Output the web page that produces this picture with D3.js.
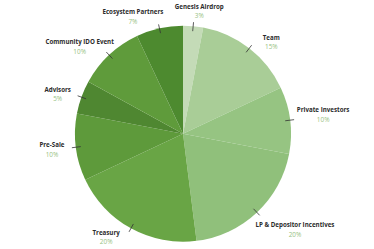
<!DOCTYPE html>
<html><head><meta charset="utf-8">
<script src="https://cdn.jsdelivr.net/npm/d3@7"></script>
<style>
html,body{margin:0;padding:0;background:#fff;}
svg{display:block;}
.name{font-family:"Open Sans",Arial,sans-serif;font-weight:700;font-size:6.2px;fill:#2b2b2b;}
.pct{font-family:"Open Sans",Arial,sans-serif;font-weight:400;font-size:6.4px;fill:#98c283;}
</style></head>
<body>
<script>
const categories = ["Genesis Airdrop","Team","Private Investors","LP & Depositor Incentives","Treasury","Pre-Sale","Advisors","Community IDO Event","Ecosystem Partners"];
const shares = [3,15,10,20,20,10,5,10,7];
const colors = ["#c4dbb7","#a9cd97","#96c482","#90c07b","#69a545","#5e9a3b","#4f8731","#5f9b3b","#4d8a2f"];
// hand-placed label adjustments (layout only)
const labelNudgeX = [2.7,9.5,-5,2.8,-12.5,0.4,0,2.2,-17.3];
const labelNudgeY = [1.2,6.3,-3.6,5.5,-5,0.4,2.3,3.4,4.1];

const W=374,H=249,cx=183,cy=133.7,R=108;
const svg=d3.select("body").append("svg").attr("width",W).attr("height",H);
const g=svg.append("g").attr("transform",`translate(${cx},${cy})`);
const data=categories.map((c,i)=>({name:c,value:shares[i],color:colors[i],i:i}));
const pie=d3.pie().value(d=>d.value).sort(null);
const arcs=pie(data);
const arc=d3.arc().innerRadius(0).outerRadius(R);
g.selectAll("path.slice").data(arcs).join("path").attr("class","slice")
 .attr("d",arc).attr("fill",d=>d.data.color);

const mid=d=>(d.startAngle+d.endAngle)/2;
g.selectAll("line.tick").data(arcs).join("line").attr("class","tick")
 .attr("x1",d=>Math.sin(mid(d))*(R-5)).attr("y1",d=>-Math.cos(mid(d))*(R-5))
 .attr("x2",d=>Math.sin(mid(d))*(R+4)).attr("y2",d=>-Math.cos(mid(d))*(R+4))
 .attr("stroke","#333").attr("stroke-width",0.8);

const lab=g.selectAll("g.lab").data(arcs).join("g").attr("class","lab");
lab.append("text").attr("class","name").attr("text-anchor","middle").attr("y",-2.35).text(d=>d.data.name);
lab.append("text").attr("class","pct").attr("text-anchor","middle").attr("y",7).text(d=>d.data.value+"%");
lab.each(function(d){
  const a=mid(d), s=Math.sin(a), c=Math.cos(a);
  const w=d3.select(this).select("text.name").node().getComputedTextLength();
  const x=s*120+s*w/2+labelNudgeX[d.data.i];
  const y=-c*124+labelNudgeY[d.data.i];
  d3.select(this).attr("transform",`translate(${x},${y})`);
});
</script>
</body></html>
